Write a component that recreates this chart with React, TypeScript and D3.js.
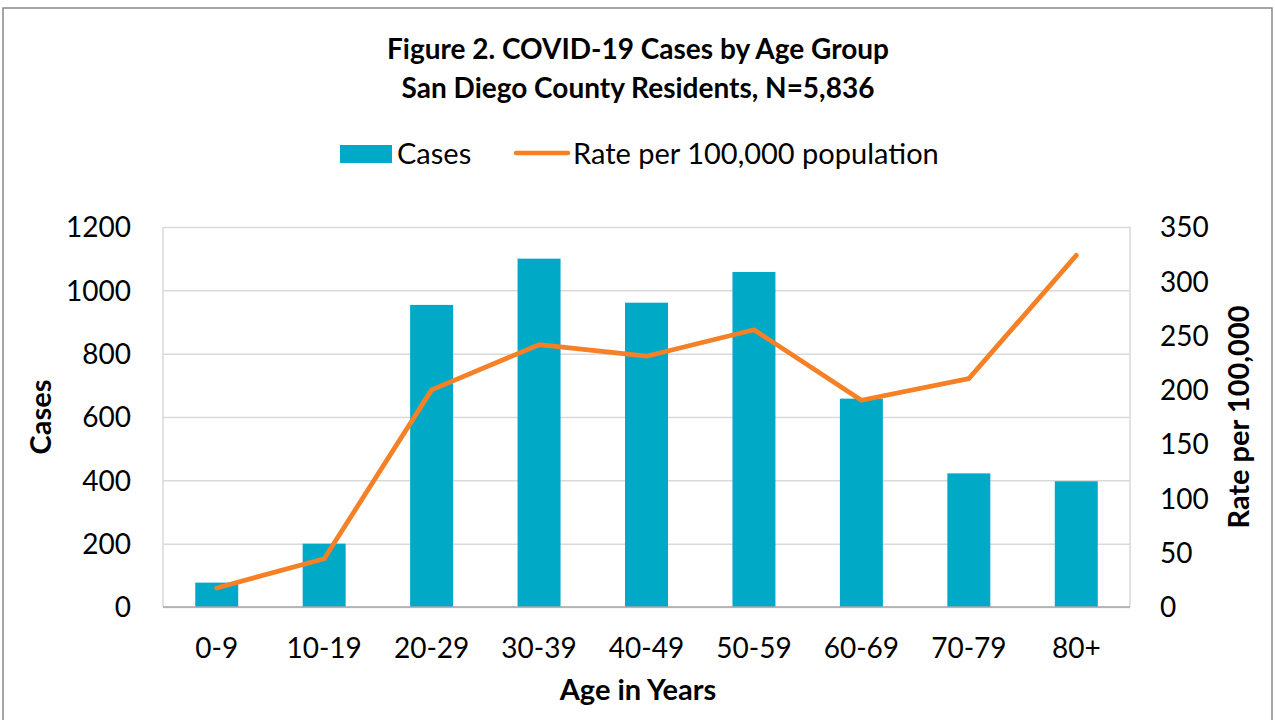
import React, { useRef, useEffect } from 'react'
import * as d3 from 'd3'

const ageGroups = ['0-9', '10-19', '20-29', '30-39', '40-49', '50-59', '60-69', '70-79', '80+']
const cases = [77, 200, 954, 1100, 961, 1058, 658, 422, 397]
const ratePer100k = [17.5, 44.5, 200, 241.6, 231, 255.4, 190.4, 210.3, 323.9]
const leftTicks = [0, 200, 400, 600, 800, 1000, 1200]
const rightTicks = [0, 50, 100, 150, 200, 250, 300, 350]

const FONT = 'Lato, "Open Sans", sans-serif'
const BAR = '#00a9c6'
const LINE = '#f58025'

export default function App() {
    const svgRef = useRef<SVGSVGElement>(null)

    useEffect(() => {
        if (!svgRef.current) return
        const width = 1275
        const height = 720
        const svg = d3.select(svgRef.current)
        svg.selectAll('*').remove()

        const margin = { top: 227, right: 145, bottom: 113, left: 163 }
        const w = width - margin.left - margin.right
        const h = height - margin.top - margin.bottom

        // outer frame
        svg.append('rect')
            .attr('x', 3).attr('y', 8)
            .attr('width', 1269).attr('height', 740)
            .attr('fill', '#fff')
            .attr('stroke', '#888').attr('stroke-width', 1.5)

        // title
        const title = svg.append('text')
            .attr('text-anchor', 'middle')
            .attr('fill', '#000')
            .style('font-family', FONT)
            .style('font-weight', 'bold')
            .style('font-size', '28px')
        title.append('tspan').attr('x', 638).attr('y', 59).text('Figure 2. COVID-19 Cases by Age Group')
        title.append('tspan').attr('x', 638).attr('y', 98).text('San Diego County Residents, N=5,836')

        // legend
        const lg = svg.append('g')
        lg.append('rect').attr('x', 340).attr('y', 145).attr('width', 52).attr('height', 18).attr('fill', BAR)
        lg.append('text').attr('x', 397).attr('y', 164)
            .style('font-family', FONT).style('font-size', '29px').text('Cases')
        lg.append('line').attr('x1', 516).attr('x2', 568).attr('y1', 153).attr('y2', 153)
            .attr('stroke', LINE).attr('stroke-width', 4.5).attr('stroke-linecap', 'round')
        lg.append('text').attr('x', 573).attr('y', 164)
            .style('font-family', FONT).style('font-size', '29px').text('Rate per 100,000 population')

        const g = svg.append('g').attr('transform', `translate(${margin.left},${margin.top})`)

        const band = d3.scaleBand().domain(ageGroups).range([0, w])
        const yL = d3.scaleLinear().domain([0, 1200]).range([h, 0])
        const yR = d3.scaleLinear().domain([0, 350]).range([h, 0])

        // gridlines
        g.append('g')
            .call(d3.axisLeft(yL).tickValues(leftTicks).tickSize(-w).tickFormat(() => ''))
            .call(a => a.selectAll('line').attr('stroke', '#d9d9d9').attr('stroke-width', 1.5))
            .call(a => a.select('.domain').remove())
        g.append('line').attr('x1', 0).attr('x2', 0).attr('y1', 0).attr('y2', h).attr('stroke', '#d9d9d9').attr('stroke-width', 1.5)
        g.append('line').attr('x1', w).attr('x2', w).attr('y1', 0).attr('y2', h).attr('stroke', '#d9d9d9').attr('stroke-width', 1.5)

        // bars
        g.selectAll('rect.bar')
            .data(cases)
            .join('rect')
            .attr('class', 'bar')
            .attr('x', (d, i) => (band(ageGroups[i]) as number) + band.bandwidth() * 0.3)
            .attr('width', band.bandwidth() * 0.4)
            .attr('y', d => yL(d))
            .attr('height', d => h - yL(d))
            .attr('fill', BAR)

        // baseline
        g.append('line').attr('x1', 0).attr('x2', w).attr('y1', h).attr('y2', h)
            .attr('stroke', '#a6a6a6').attr('stroke-width', 1.5)

        // rate line
        const line = d3.line<number>()
            .x((d, i) => (band(ageGroups[i]) as number) + band.bandwidth() / 2)
            .y(d => yR(d))
        g.append('path')
            .datum(ratePer100k)
            .attr('d', line)
            .attr('fill', 'none')
            .attr('stroke', LINE)
            .attr('stroke-width', 4.75)
            .attr('stroke-linecap', 'round')
            .attr('stroke-linejoin', 'round')

        // left axis labels
        g.append('g')
            .call(d3.axisLeft(yL).tickValues(leftTicks).tickSize(0).tickPadding(32).tickFormat(d3.format('d')))
            .call(a => a.select('.domain').remove())
            .call(a => a.selectAll('text').attr('fill', '#000').attr('dy', '0.35em')
                .style('font-family', FONT).style('font-size', '28px'))

        // right axis labels
        g.append('g')
            .attr('transform', `translate(${w},0)`)
            .call(d3.axisRight(yR).tickValues(rightTicks).tickSize(0).tickPadding(30))
            .call(a => a.select('.domain').remove())
            .call(a => a.selectAll('text').attr('fill', '#000').attr('dy', '0.35em')
                .style('font-family', FONT).style('font-size', '28px'))

        // x axis labels
        g.append('g')
            .attr('transform', `translate(0,${h})`)
            .call(d3.axisBottom(band).tickSize(0).tickPadding(31))
            .call(a => a.select('.domain').remove())
            .call(a => a.selectAll('text').attr('fill', '#000')
                .style('font-family', FONT).style('font-size', '28px'))

        // axis titles
        svg.append('text')
            .attr('transform', `translate(51,${margin.top + h / 2}) rotate(-90)`)
            .attr('text-anchor', 'middle')
            .style('font-family', FONT).style('font-weight', 'bold').style('font-size', '29px')
            .text('Cases')
        svg.append('text')
            .attr('transform', `translate(1249,${margin.top + h / 2}) rotate(-90)`)
            .attr('text-anchor', 'middle')
            .style('font-family', FONT).style('font-weight', 'bold').style('font-size', '29px')
            .text('Rate per 100,000')
        svg.append('text')
            .attr('x', 638).attr('y', 700)
            .attr('text-anchor', 'middle')
            .style('font-family', FONT).style('font-weight', 'bold').style('font-size', '29px')
            .text('Age in Years')
    }, [])

    return (
        <svg ref={svgRef} width={1275} height={720}
            style={{ position: 'absolute', left: 0, top: 0, display: 'block' }} />
    )
}
